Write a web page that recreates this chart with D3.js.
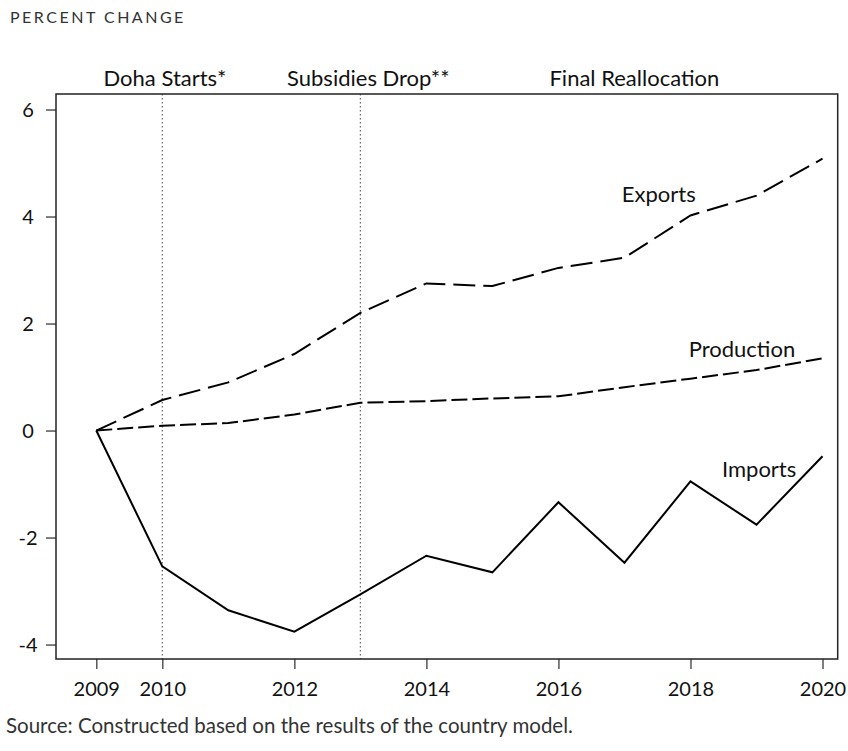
<!DOCTYPE html>
<html lang="en">
<head>
<meta charset="UTF-8">
<title>Percent change</title>
<script src="https://d3js.org/d3.v7.min.js"></script>
<style>
  body { margin: 0; background: #fff; font-family: Lato, "Noto Sans", sans-serif; }
</style>
</head>
<body>
<div id="chart"></div>
<script>
// data
const years = [2009, 2010, 2011, 2012, 2013, 2014, 2015, 2016, 2017, 2018, 2019, 2020];
const exportsVals = [0, 0.57, 0.90, 1.43, 2.20, 2.75, 2.70, 3.04, 3.23, 4.02, 4.39, 5.08];
const productionVals = [0, 0.09, 0.14, 0.30, 0.52, 0.55, 0.60, 0.64, 0.81, 0.97, 1.13, 1.35];
const importsVals = [0, -2.54, -3.36, -3.76, -3.06, -2.34, -2.65, -1.34, -2.47, -0.95, -1.76, -0.48];
const xTicks = [2009, 2010, 2012, 2014, 2016, 2018, 2020];
const yTicks = [-4, -2, 0, 2, 4, 6];
const eventYears = [2010, 2013];
const eventLabels = ["Doha Starts*", "Subsidies Drop**", "Final Reallocation"];
const eventLabelAt = [2010.04, 2013.12, 2017.15];

const W = 848, H = 751;
const plotL = 56, plotT = 94, plotR = 837.7, plotB = 659;

const svg = d3.select("#chart").append("svg")
  .attr("width", W)
  .attr("height", H);

const x = d3.scaleLinear().domain([2008.39, 2020.23]).range([plotL, plotR]);
const y = d3.scaleLinear().domain([-4.27, 6.29]).range([plotB, plotT]);

// title
svg.append("text")
  .attr("x", 10).attr("y", 23)
  .style("font-size", "16px")
  .style("letter-spacing", "2.5px")
  .style("fill", "#333")
  .text("PERCENT CHANGE");

// event lines
svg.append("g").selectAll("line")
  .data(eventYears)
  .join("line")
  .attr("x1", d => x(d)).attr("x2", d => x(d))
  .attr("y1", plotT).attr("y2", plotB)
  .attr("stroke", "#666")
  .attr("stroke-width", 1.2)
  .attr("stroke-dasharray", "1.5,2.5");

// axes
const xAxis = svg.append("g")
  .attr("transform", `translate(0,${plotB})`)
  .call(d3.axisBottom(x).tickValues(xTicks).tickFormat(d => String(d)).tickSize(10).tickSizeOuter(0).tickPadding(13));
const yAxis = svg.append("g")
  .attr("transform", `translate(${plotL},0)`)
  .call(d3.axisLeft(y).tickValues(yTicks).tickFormat(d => String(d)).tickSize(10).tickSizeOuter(0).tickPadding(10));

[xAxis, yAxis].forEach(g => {
  g.select(".domain").remove();
  g.selectAll(".tick line").attr("stroke", "#555").attr("stroke-width", 1.5);
  g.selectAll(".tick text")
    .style("font-family", "Lato, 'Noto Sans', sans-serif")
    .style("font-size", "20px")
    .style("fill", "#111");
});
// y labels sit centred in the left margin
yAxis.selectAll(".tick text")
  .attr("x", -28)
  .attr("text-anchor", "middle")
  .attr("dy", "0.36em");

// frame
svg.append("rect")
  .attr("x", plotL).attr("y", plotT)
  .attr("width", plotR - plotL).attr("height", plotB - plotT)
  .attr("fill", "none")
  .attr("stroke", "#222")
  .attr("stroke-width", 1.5);

// series
const line = d3.line().x((d, i) => x(years[i])).y(d => y(d));
const series = [
  { name: "Exports", vals: exportsVals, dash: "22,8", label: [2017.52, 4.27] },
  { name: "Production", vals: productionVals, dash: "16,5", label: [2018.78, 1.37] },
  { name: "Imports", vals: importsVals, dash: null, label: [2019.04, -0.87] }
];

svg.append("g").selectAll("path")
  .data(series)
  .join("path")
  .attr("d", d => line(d.vals))
  .attr("fill", "none")
  .attr("stroke", "#000")
  .attr("stroke-width", 2)
  .attr("stroke-linejoin", "miter")
  .attr("stroke-dasharray", d => d.dash);

svg.append("g").selectAll("text")
  .data(series)
  .join("text")
  .attr("x", d => x(d.label[0]))
  .attr("y", d => y(d.label[1]))
  .attr("text-anchor", "middle")
  .style("font-size", "22px")
  .style("fill", "#111")
  .text(d => d.name);

// event labels
svg.append("g").selectAll("text")
  .data(eventLabels)
  .join("text")
  .attr("x", (d, i) => x(eventLabelAt[i]))
  .attr("y", 86)
  .attr("text-anchor", "middle")
  .style("font-size", "22px")
  .style("fill", "#111")
  .text(d => d);

// source
svg.append("text")
  .attr("x", 6).attr("y", 733)
  .style("font-size", "20.5px")
  .style("fill", "#333")
  .text("Source: Constructed based on the results of the country model.");
</script>
</body>
</html>
